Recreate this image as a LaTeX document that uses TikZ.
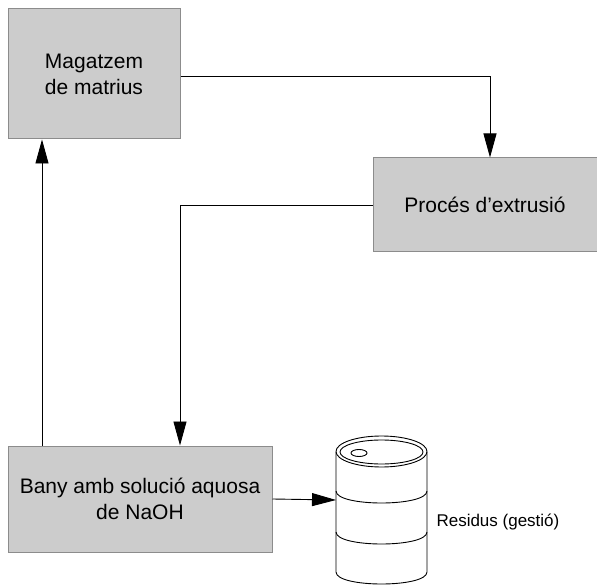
\documentclass[tikz,border=0pt]{standalone}
\usepackage{fontspec}
\setmainfont{Liberation Sans}
\usetikzlibrary{arrows.meta,positioning}

\definecolor{caixagris}{HTML}{CCCCCC}
\definecolor{vora}{HTML}{8C8C8C}

\tikzset{
  procbox/.style={draw=vora,fill=caixagris,line width=1pt,inner sep=0pt,
    align=center,font=\fontsize{21}{26}\selectfont},
  flow/.style={line width=0.9pt,-{Triangle[length=24pt,width=13pt]}},
  bidonline/.style={line width=0.9pt}
}

\begin{document}
\begin{tikzpicture}[x=1pt,y=-1pt]
  \useasboundingbox (0,0) rectangle (597,585);

  \node[procbox,minimum width=172pt,minimum height=130pt](magatzem) at (94,74) {Magatzem\\de matrius};
  \node[procbox,minimum width=224pt,minimum height=94pt](proces) at (485,205) {Proc\'es d'extrusi\'o};
  \node[procbox,minimum width=264pt,minimum height=106pt](bany) at (140,499) {Bany amb soluci\'o aquosa\\de NaOH};

  % bidó de residus
  \coordinate (bidon) at (336,500);
  \draw[bidonline] (336,452) -- (336,572) .. controls (336,588) and (427,588) .. (427,572) -- (427,452);
  \draw[bidonline,fill=white] (381.5,451.5) ellipse [x radius=45.5pt,y radius=15.5pt];
  \draw[bidonline] (381.5,452) ellipse [x radius=41.5pt,y radius=12pt];
  \draw[bidonline] (359,453) ellipse [x radius=8pt,y radius=3.5pt];
  \draw[bidonline] (336,491) .. controls (336,507) and (427,507) .. (427,491);
  \draw[bidonline] (336,532) .. controls (336,548) and (427,548) .. (427,532);
  \node[font=\fontsize{17}{20}\selectfont,anchor=west](residus) at (433,522) {Residus (gesti\'o)};

  \draw[flow] ([yshift=-2pt]magatzem.east) -| ([xshift=5pt]proces.north);
  \draw[flow] (proces.west) -| ([xshift=40pt]bany.north);
  \draw[flow] ([xshift=-98pt]bany.north) coordinate (b) -- (b |- magatzem.south);
  \draw[flow] (bany.east) -- (bidon);
\end{tikzpicture}
\end{document}
